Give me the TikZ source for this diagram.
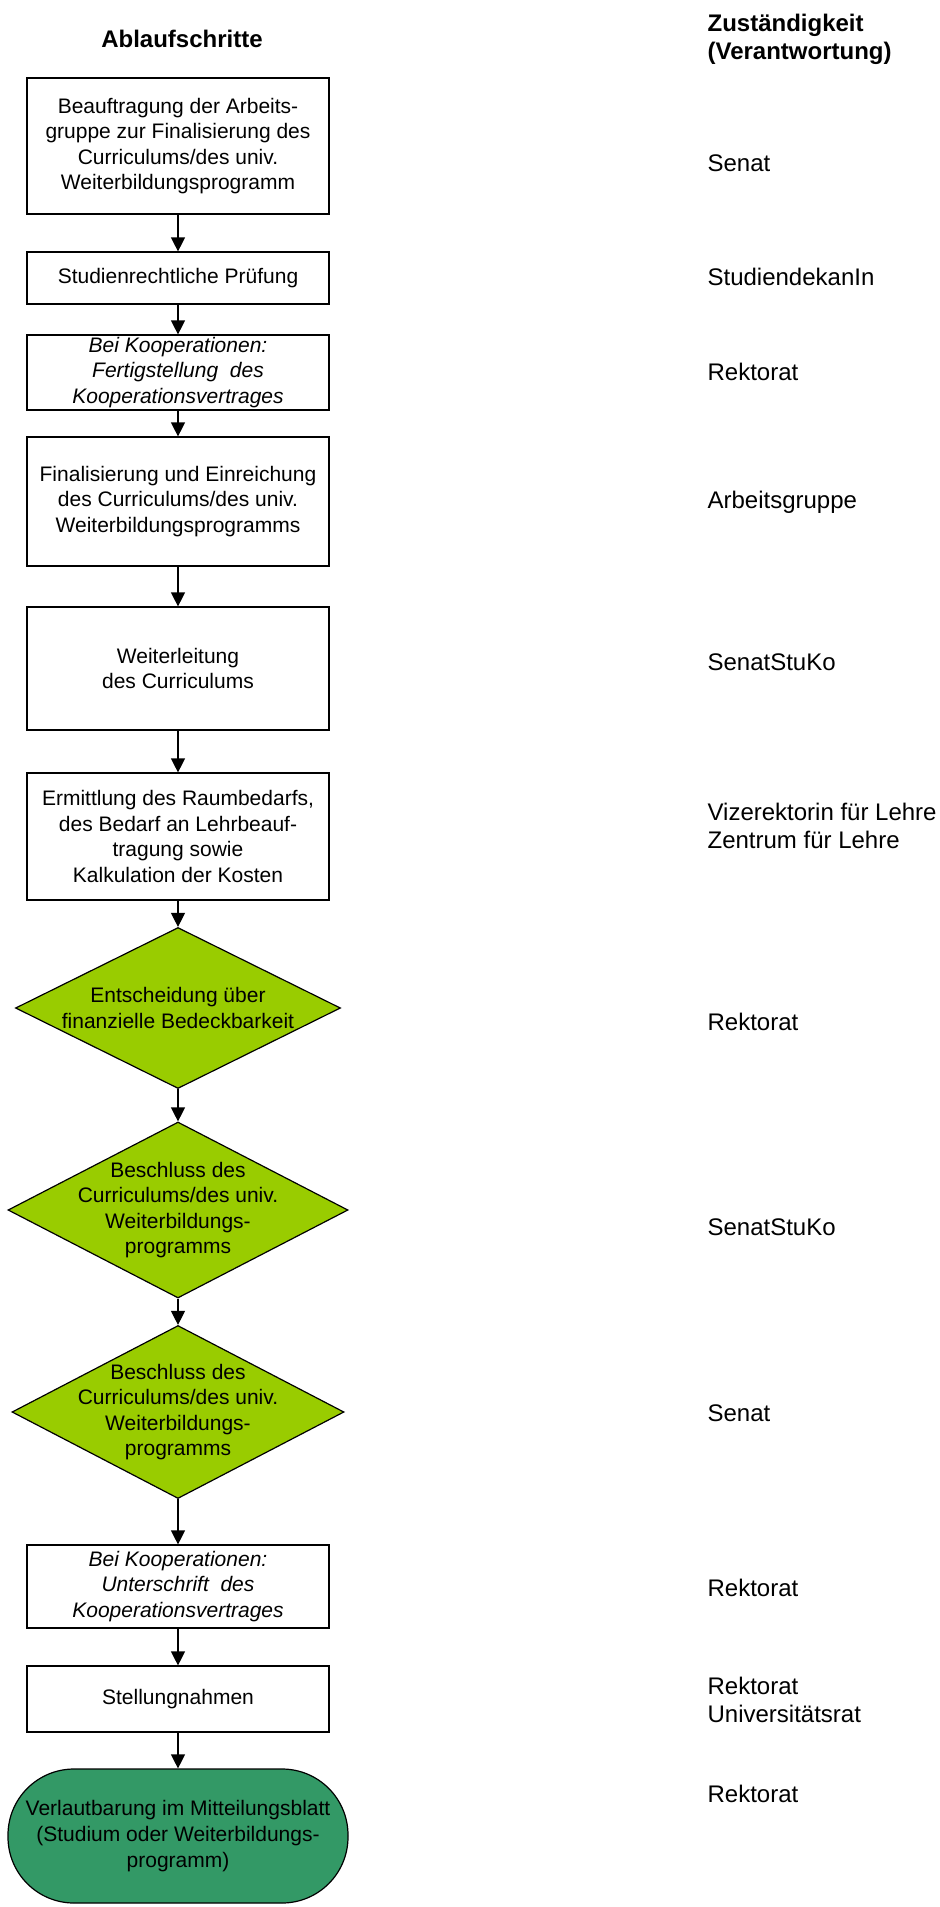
\documentclass[tikz,border=0pt]{standalone}
\usepackage{fontspec}
\setmainfont{Liberation Sans}
\usetikzlibrary{arrows.meta,shapes.geometric}

\definecolor{entscheidgruen}{HTML}{99CC00}
\definecolor{blattgruen}{HTML}{339966}

\tikzset{
	schritt/.style={draw, rectangle, minimum width=151pt, inner sep=0pt, align=center,
		font=\fontsize{10.5}{12.8}\selectfont},
	entscheid/.style={draw, diamond, fill=entscheidgruen, inner sep=0pt},
	entscheidtext/.style={align=center, inner sep=0pt, font=\fontsize{10.5}{12.8}\selectfont},
	blatt/.style={draw, rectangle, rounded corners=33pt, fill=blattgruen, minimum width=170pt,
		minimum height=67pt, inner sep=0pt, align=center, font=\fontsize{10.5}{12.8}\selectfont},
	zust/.style={anchor=west, align=left, inner sep=0pt, font=\fontsize{12}{14}\selectfont},
	kopf/.style={inner sep=0pt, font=\fontsize{12}{14}\bfseries\selectfont}
}

\begin{document}
\begin{tikzpicture}[x=0.5pt, y=-0.5pt, >={Triangle[length=7pt,width=7pt]}, line width=0.6pt]
		% Spalten
		\def\xschritt{178} % Mitte der Ablaufschritte
		\def\xzust{707}    % linker Rand der Zustaendigkeiten
		
		\useasboundingbox (0,0) rectangle (939,1907);
		
		% --- Kopfzeile ---
		\node[kopf] (kopfablauf) at (182,39) {Ablaufschritte};
		\node[kopf, anchor=west, align=left] (kopfzust) at (\xzust,39) {Zuständigkeit\\(Verantwortung)};
		
		% --- Ablaufschritte ---
		\node[schritt, minimum height=68pt] (auftrag) at (\xschritt,146)
			{Beauftragung der Arbeits-\\gruppe zur Finalisierung des\\Curriculums/des univ.\\Weiterbildungsprogramm};
		\node[schritt, minimum height=26pt] (pruefung) at (\xschritt,278) {Studienrechtliche Prüfung};
		\node[schritt, minimum height=37.5pt] (vertrag) at (\xschritt,372.5)
			{\itshape Bei Kooperationen:\\\itshape Fertigstellung~ des\\\itshape Kooperationsvertrages};
		\node[schritt, minimum height=64.5pt] (einreichung) at (\xschritt,501.5)
			{Finalisierung und Einreichung\\des Curriculums/des univ.\\Weiterbildungsprogramms};
		\node[schritt, minimum height=61.5pt] (weiterleitung) at (\xschritt,668.5)
			{Weiterleitung\\des Curriculums};
		\node[schritt, minimum height=63.5pt] (ermittlung) at (\xschritt,836.5)
			{Ermittlung des Raumbedarfs,\\des Bedarf an Lehrbeauf-\\tragung sowie\\Kalkulation der Kosten};
		
		% Entscheidungen (Rauten)
		\node[entscheid, minimum width=162.5pt, minimum height=80.5pt,
			label={[entscheidtext]center:{Entscheidung über\\finanzielle Bedeckbarkeit}}] (bedeckung) at (\xschritt,1008) {};
		\node[entscheid, minimum width=170pt, minimum height=88pt,
			label={[entscheidtext]center:{Beschluss des\\Curriculums/des univ.\\Weiterbildungs-\\programms}}] (beschlussstuko) at (\xschritt,1210) {};
		\node[entscheid, minimum width=166pt, minimum height=86.5pt,
			label={[entscheidtext]center:{Beschluss des\\Curriculums/des univ.\\Weiterbildungs-\\programms}}] (beschlusssenat) at (\xschritt,1412) {};
		
		\node[schritt, minimum height=41.5pt] (unterschrift) at (\xschritt,1586.5)
			{\itshape Bei Kooperationen:\\\itshape Unterschrift~ des\\\itshape Kooperationsvertrages};
		\node[schritt, minimum height=33pt] (stellung) at (\xschritt,1699) {Stellungnahmen};
		\node[blatt] (verlautbarung) at (\xschritt,1836)
			{Verlautbarung im Mitteilungsblatt\\(Studium oder Weiterbildungs-\\programm)};
		
		% --- Pfeile ---
		\draw[->] (auftrag) -- (pruefung);
		\draw[->] (pruefung) -- (vertrag);
		\draw[->] (vertrag) -- (einreichung);
		\draw[->] (einreichung) -- (weiterleitung);
		\draw[->] (weiterleitung) -- (ermittlung);
		\draw[->] (ermittlung) -- (bedeckung);
		\draw[->] (bedeckung) -- (beschlussstuko);
		\draw[->] (beschlussstuko) -- (beschlusssenat);
		\draw[->] (beschlusssenat) -- (unterschrift);
		\draw[->] (unterschrift) -- (stellung);
		\draw[->] (stellung) -- (verlautbarung);
		
		% --- Zustaendigkeiten ---
		\node[zust] (zsenat) at (\xzust,163) {Senat};
		\node[zust] (zdekan) at (\xzust,277) {StudiendekanIn};
		\node[zust] (zrektorat) at (\xzust,372) {Rektorat};
		\node[zust] (zgruppe) at (\xzust,502) {Arbeitsgruppe};
		\node[zust] (zstuko) at (\xzust,662) {SenatStuKo};
		\node[zust] (zlehre) at (\xzust,826) {Vizerektorin für Lehre\\Zentrum für Lehre};
		\node[zust] (zrektoratb) at (\xzust,1022) {Rektorat};
		\node[zust] (zstukob) at (\xzust,1227) {SenatStuKo};
		\node[zust] (zsenatb) at (\xzust,1413) {Senat};
		\node[zust] (zrektoratc) at (\xzust,1588) {Rektorat};
		\node[zust] (zrat) at (\xzust,1700) {Rektorat\\Universitätsrat};
		\node[zust] (zrektoratd) at (\xzust,1794) {Rektorat};
	\end{tikzpicture}
\end{document}
